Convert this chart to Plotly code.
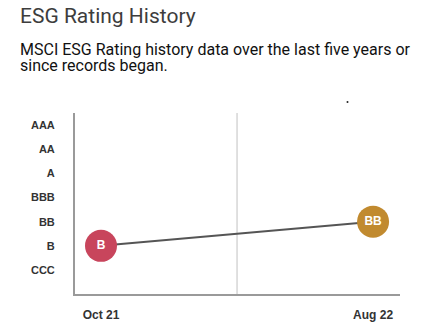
import plotly.graph_objects as go

# Rating scale, lowest to highest
rating_scale = ["CCC", "B", "BB", "BBB", "A", "AA", "AAA"]

# Rating history
periods = ["Oct 21", "Aug 22"]
ratings = ["B", "BB"]
rating_colors = ["#c8455c", "#c18a2f"]

x_pos = list(range(len(periods)))
y_pos = [rating_scale.index(r) for r in ratings]

W, H = 422, 325
L, R, T, B = 75, 22, 113, 31
PW, PH = W - L - R, H - T - B


def px_x(px):
    return (px - L) / PW


def px_y(py):
    return (H - B - py) / PH


fig = go.Figure()

fig.add_trace(go.Scatter(
    x=x_pos,
    y=y_pos,
    mode="lines+markers+text",
    line=dict(color="#555555", width=2),
    marker=dict(size=32, color=rating_colors, line=dict(width=0)),
    text=ratings,
    textposition="middle center",
    textfont=dict(family="Liberation Sans, Arial, sans-serif", size=12, color="white", weight="bold"),
    hoverinfo="skip",
    showlegend=False,
    cliponaxis=False,
))

# Mid-period guide line
fig.add_shape(type="line", xref="x", yref="paper",
              x0=(x_pos[0] + x_pos[-1]) / 2, x1=(x_pos[0] + x_pos[-1]) / 2, y0=0, y1=1,
              line=dict(color="#d6d6d6", width=1.5), layer="below")

fig.add_shape(type="circle", xref="paper", yref="paper",
              x0=px_x(346.5), x1=px_x(348.5), y0=px_y(103), y1=px_y(101),
              fillcolor="#222222", line=dict(width=0))

fig.add_annotation(text="ESG Rating History", xref="paper", yref="paper",
                   x=px_x(18), y=px_y(16), xanchor="left", yanchor="middle",
                   showarrow=False,
                   font=dict(family="Roboto, sans-serif", size=21, color="#3d3d3d"))
fig.add_annotation(text="MSCI ESG Rating history data over the last five years or",
                   xref="paper", yref="paper",
                   x=px_x(18), y=px_y(49), xanchor="left", yanchor="middle",
                   showarrow=False,
                   font=dict(family="Roboto, sans-serif", size=16, color="#111111"))
fig.add_annotation(text="since records began.",
                   xref="paper", yref="paper",
                   x=px_x(18), y=px_y(65), xanchor="left", yanchor="middle",
                   showarrow=False,
                   font=dict(family="Roboto, sans-serif", size=16, color="#111111"))

fig.update_layout(
    width=W, height=H,
    margin=dict(l=L, r=R, t=T, b=B, pad=0, autoexpand=False),
    paper_bgcolor="white",
    plot_bgcolor="white",
    xaxis=dict(
        range=[-0.0956, 1.099],
        tickvals=x_pos, ticktext=periods,
        showgrid=False, zeroline=False, automargin=False,
        showline=True, linecolor="#9a9a9a", linewidth=2,
        ticks="outside", ticklen=9, tickcolor="rgba(0,0,0,0)",
        tickfont=dict(family="Liberation Sans, Arial, sans-serif", size=12, color="#333333", weight="bold"),
        fixedrange=True,
    ),
    yaxis=dict(
        range=[-0.99, 6.49],
        tickvals=list(range(len(rating_scale))), ticktext=rating_scale,
        showgrid=False, zeroline=False, automargin=False,
        showline=True, linecolor="#9a9a9a", linewidth=2,
        ticks="outside", ticklen=16, tickcolor="rgba(0,0,0,0)",
        tickfont=dict(family="Liberation Sans, Arial, sans-serif", size=11, color="#333333", weight="bold"),
        fixedrange=True,
    ),
)

fig.write_html("out.html", config={"displayModeBar": False})
